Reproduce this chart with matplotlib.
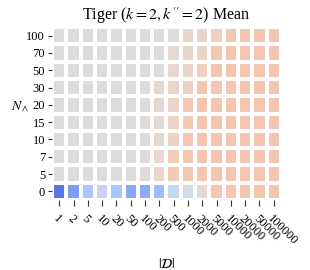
import matplotlib
matplotlib.use('Agg')
import matplotlib.pyplot as plt
import numpy as np

# data, top row first
d_labels = ['1', '2', '5', '10', '20', '50', '100', '200', '500', '1000',
            '2000', '5000', '10000', '20000', '50000', '100000']
n_labels = ['100', '70', '50', '30', '20', '15', '10', '7', '5', '0']

row_100 = [0, 0, 0, 0, 0, 0, 0, 0, 0, 0.09, 0.10, 0.15, 0.22, 0.24, 0.24, 0.24]
row_70 = [0, 0, 0, 0, 0, 0, 0, 0, 0.07, 0.09, 0.11, 0.23, 0.24, 0.24, 0.24, 0.24]
row_50 = [0, 0, 0, 0, 0, 0, 0, 0, 0.08, 0.10, 0.15, 0.24, 0.24, 0.24, 0.24, 0.24]
row_30 = [0, 0, 0, 0, 0, 0, 0, 0.05, 0.09, 0.15, 0.24, 0.24, 0.24, 0.24, 0.24, 0.24]
row_20 = [0, 0, 0, 0, 0, 0, 0, 0.05, 0.10, 0.21, 0.24, 0.24, 0.24, 0.24, 0.24, 0.24]
row_15 = [0, 0, 0, 0, 0, 0, 0.03, 0.06, 0.13, 0.21, 0.24, 0.24, 0.24, 0.24, 0.24, 0.24]
row_10 = [0, 0, 0, 0, 0, 0, 0.03, 0.07, 0.14, 0.24, 0.24, 0.24, 0.24, 0.24, 0.24, 0.24]
row_7 = [0, 0, 0, 0, 0, 0, 0.03, 0.08, 0.19, 0.24, 0.24, 0.24, 0.24, 0.24, 0.24, 0.24]
row_5 = [0, 0, 0, 0, 0, 0, 0.04, 0.09, 0.21, 0.24, 0.24, 0.24, 0.24, 0.24, 0.24, 0.24]
row_0 = [-0.80, -0.60, -0.34, -0.16, -0.34, -0.54, -0.52, -0.42, -0.17, -0.08,
         0.05, 0.24, 0.24, 0.24, 0.24, 0.24]

matrix = np.array([row_100, row_70, row_50, row_30, row_20,
                   row_15, row_10, row_7, row_5, row_0])

plt.rcParams['font.family'] = ['Liberation Serif', 'DejaVu Serif']
plt.rcParams['mathtext.fontset'] = 'stix'

fig = plt.figure(figsize=(3.1, 2.7), dpi=100)
ax = fig.add_axes([0.168, 0.259, 0.738, 0.641])

ax.pcolormesh(matrix, cmap='coolwarm', vmin=-1, vmax=1,
              edgecolors='white', linewidth=1.6)
ax.set_xlim(0, matrix.shape[1])
ax.set_ylim(matrix.shape[0], 0)

for s in ax.spines.values():
    s.set_visible(False)

ax.set_xticks(np.arange(matrix.shape[1]) + 0.5)
ax.set_xticklabels(d_labels, rotation=-45, ha='left', va='top',
                   rotation_mode='anchor', fontsize=9)
ax.set_yticks(np.arange(matrix.shape[0]) + 0.5)
ax.set_yticklabels(n_labels, fontsize=9)
ax.tick_params(axis='y', length=3, width=0.8, color='#333333', pad=2)
ax.tick_params(axis='x', length=4, width=0.8, color='#333333', pad=5)

ax.set_title(r"Tiger ($k=2, k''=2$) Mean", fontsize=11.5, pad=5)
ax.set_xlabel(r'$|\mathcal{D}|$', fontsize=10, labelpad=7)
ax.set_ylabel(r'$N_\wedge$', fontsize=10, rotation=0, labelpad=4)

fig.savefig('out.png', dpi=100)
